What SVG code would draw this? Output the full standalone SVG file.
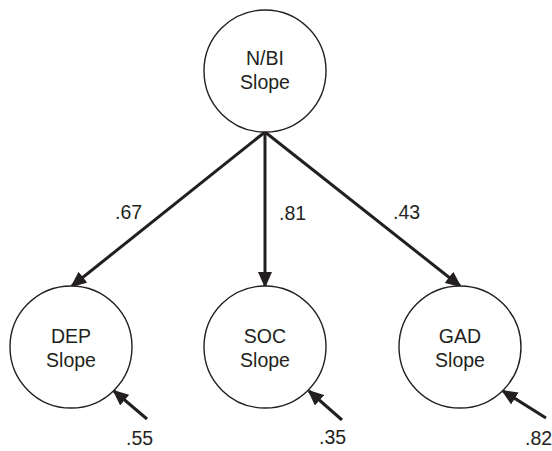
<svg xmlns="http://www.w3.org/2000/svg" width="552" height="451" viewBox="0 0 552 451">
  <style>
    .node circle { fill: #ffffff; stroke: #231f20; stroke-width: 1.4; }
    text { font-family: "Liberation Sans", Arial, sans-serif; font-size: 19.5px; fill: #231f20; }
    .nt { text-anchor: middle; }
    .edge { stroke: #231f20; stroke-width: 3; fill: none; marker-end: url(#ah); }
  </style>
  <defs>
    <marker id="ah" markerWidth="16" markerHeight="14" refX="14" refY="7" orient="auto" markerUnits="userSpaceOnUse">
      <path d="M0,0 L16,7 L0,14 z" fill="#231f20"/>
    </marker>
  </defs>
  <rect width="552" height="451" fill="#ffffff"/>
  <g id="connectors">
    <line class="edge" x1="265" y1="132" x2="72" y2="286"/>
    <line class="edge" x1="265" y1="132" x2="265" y2="286"/>
    <line class="edge" x1="265" y1="132" x2="460" y2="286"/>
    <line class="edge" x1="147" y1="419" x2="114" y2="391"/>
    <line class="edge" x1="342" y1="420" x2="309" y2="391"/>
    <line class="edge" x1="546" y1="418" x2="503" y2="391"/>
  </g>
  <g id="labels">
    <text x="115" y="219">.67</text>
    <text x="279" y="220">.81</text>
    <text x="393" y="219">.43</text>
    <text x="126" y="445">.55</text>
    <text x="319" y="444">.35</text>
    <text x="525" y="445">.82</text>
  </g>
  <g id="nbi" class="node">
    <circle cx="265" cy="71" r="61"/>
    <text class="nt" x="265" y="65">N/BI</text>
    <text class="nt" x="265" y="89">Slope</text>
  </g>
  <g id="dep" class="node">
    <circle cx="71" cy="347" r="61"/>
    <text class="nt" x="71" y="343">DEP</text>
    <text class="nt" x="71" y="367">Slope</text>
  </g>
  <g id="soc" class="node">
    <circle cx="265" cy="347" r="61"/>
    <text class="nt" x="265" y="343">SOC</text>
    <text class="nt" x="265" y="367">Slope</text>
  </g>
  <g id="gad" class="node">
    <circle cx="460" cy="347" r="61"/>
    <text class="nt" x="460" y="343">GAD</text>
    <text class="nt" x="460" y="367">Slope</text>
  </g>
</svg>
